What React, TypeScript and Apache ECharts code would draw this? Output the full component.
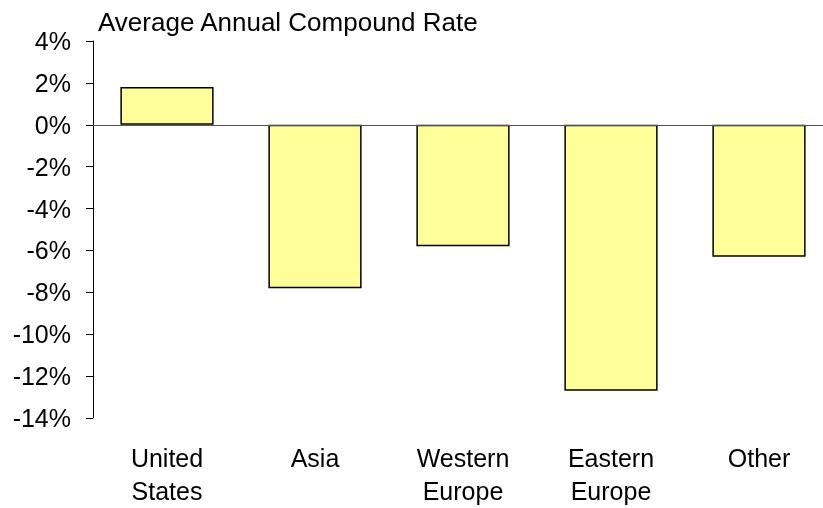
import React, { useEffect, useRef } from "react";
import * as echarts from "echarts";

const categories = ["United\nStates", "Asia", "Western\nEurope", "Eastern\nEurope", "Other"];
const rates = [1.8, -7.8, -5.8, -12.7, -6.3];
const yTicks = { min: -14, max: 4, interval: 2 };
const titleText = "Average Annual Compound Rate";

const FONT = "Arial, 'Liberation Sans', sans-serif";

export default function App() {
  const ref = useRef<HTMLDivElement>(null);
  useEffect(() => {
    if (!ref.current) return;
    const chart = echarts.init(ref.current, undefined, { renderer: "svg" });
    chart.setOption({
      animation: false,
      title: {
        text: titleText,
        left: 98,
        top: 9,
        padding: 0,
        textStyle: { fontFamily: FONT, fontSize: 26, fontWeight: "normal", color: "#000" },
      },
      grid: { left: 93, right: 0, top: 41, bottom: 90 },
      xAxis: {
        type: "category",
        data: categories,
        axisLine: { show: false, onZero: false },
        axisTick: { show: false },
        axisLabel: {
          interval: 0,
          margin: 23,
          fontFamily: FONT,
          fontSize: 25,
          lineHeight: 33,
          color: "#000",
        },
      },
      yAxis: {
        type: "value",
        min: yTicks.min,
        max: yTicks.max,
        interval: yTicks.interval,
        axisLine: { show: true, lineStyle: { color: "#000", width: 1 } },
        axisTick: { show: true, inside: false, length: 7, lineStyle: { color: "#000" } },
        splitLine: { show: false },
        axisLabel: {
          margin: 22,
          fontFamily: FONT,
          fontSize: 25,
          color: "#000",
          formatter: (v: number) => `${v}%`,
        },
      },
      series: [
        {
          type: "bar",
          data: rates,
          barWidth: "63%",
          itemStyle: { color: "#FFFF99", borderColor: "#000", borderWidth: 1.5 },
          markLine: {
            silent: true,
            symbol: "none",
            label: { show: false },
            lineStyle: { color: "#555", width: 1, type: "solid" },
            data: [{ yAxis: 0 }],
          },
        },
      ],
    });
    return () => chart.dispose();
  }, []);
  return (
    <div
      ref={ref}
      style={{ position: "fixed", left: 0, top: 0, width: 833, height: 508 }}
    />
  );
}
